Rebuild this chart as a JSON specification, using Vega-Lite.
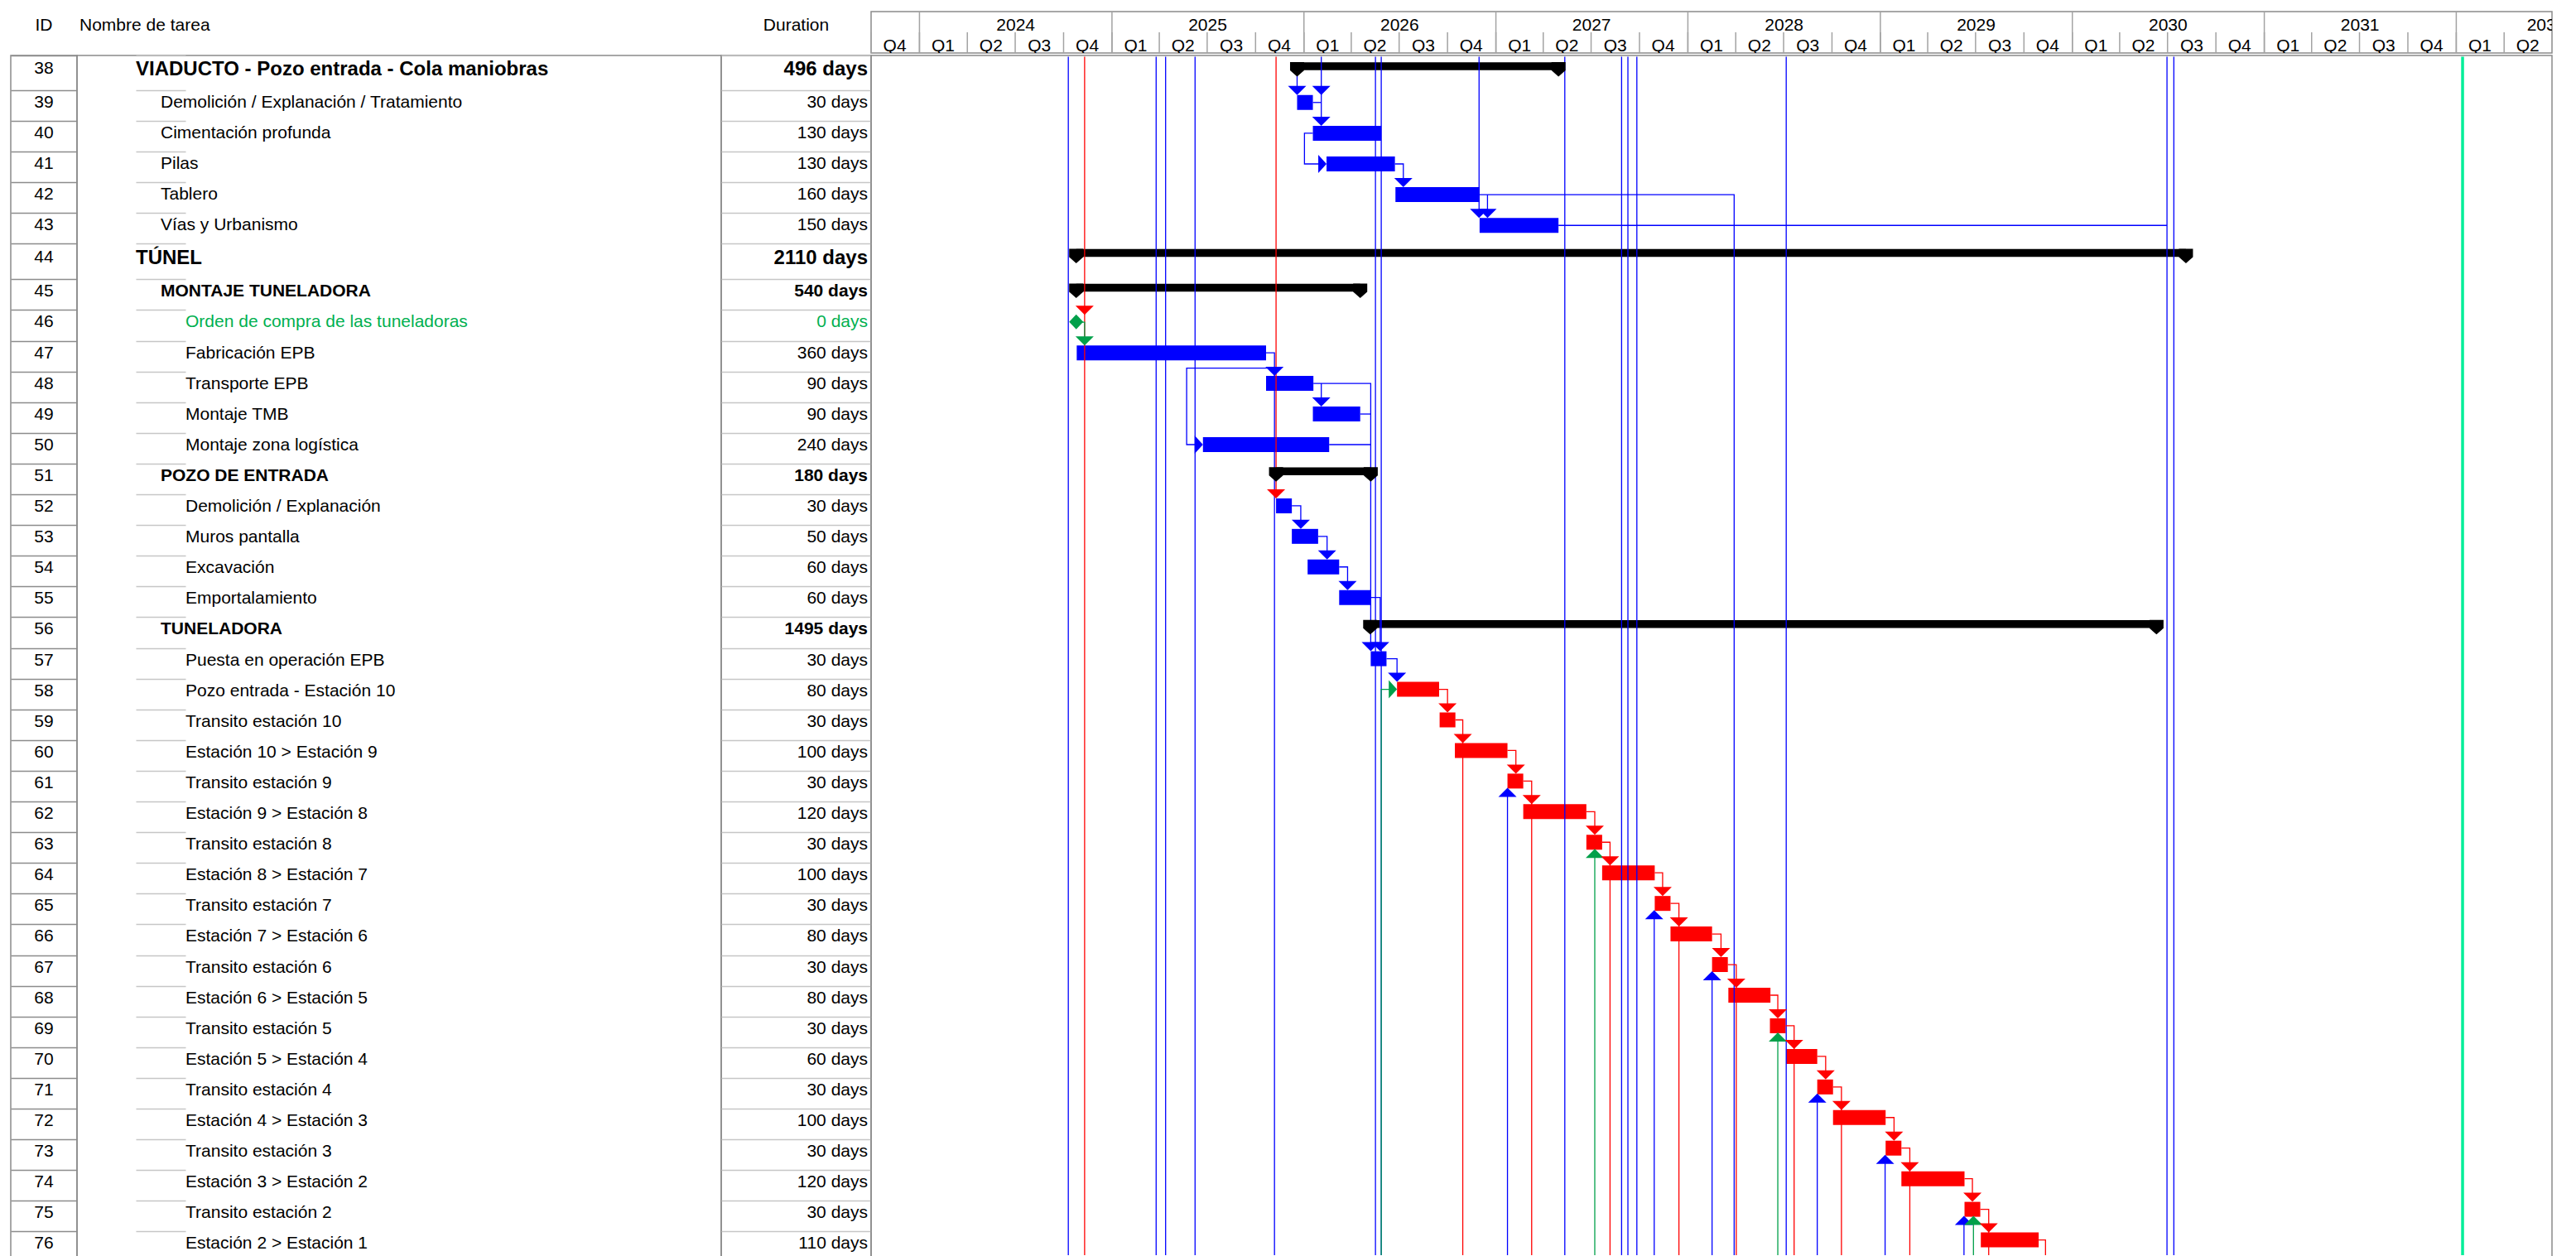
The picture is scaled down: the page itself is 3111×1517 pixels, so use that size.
{
  "$schema": "https://vega.github.io/schema/vega-lite/v6.json",
  "padding": {"left": 12, "top": 12, "right": 0, "bottom": 0},
  "background": "white",
  "spacing": 0,
  "config": {
    "font": "Liberation Sans",
    "view": {"stroke": "#8a8a8a", "strokeWidth": 1.5},
    "concat": {"spacing": 0}
  },
  "datasets": {
    "tasks": [
      {"id": 38, "name": "VIADUCTO - Pozo entrada - Cola maniobras", "dur": "496 days", "lvl": 1, "type": "sum", "c": "sum", "d": "2025-12-19", "e": "2027-04-30"},
      {"id": 39, "name": "Demolición / Explanación / Tratamiento", "dur": "30 days", "lvl": 2, "type": "task", "c": "b", "d": "2025-12-19", "e": "2026-01-18"},
      {"id": 40, "name": "Cimentación profunda", "dur": "130 days", "lvl": 2, "type": "task", "c": "b", "d": "2026-01-18", "e": "2026-05-28"},
      {"id": 41, "name": "Pilas", "dur": "130 days", "lvl": 2, "type": "task", "c": "b", "d": "2026-02-13", "e": "2026-06-23"},
      {"id": 42, "name": "Tablero", "dur": "160 days", "lvl": 2, "type": "task", "c": "b", "d": "2026-06-24", "e": "2026-12-01"},
      {"id": 43, "name": "Vías y Urbanismo", "dur": "150 days", "lvl": 2, "type": "task", "c": "b", "d": "2026-12-01", "e": "2027-04-30"},
      {"id": 44, "name": "TÚNEL", "dur": "2110 days", "lvl": 1, "type": "sum", "c": "sum", "d": "2024-10-25", "e": "2030-08-05"},
      {"id": 45, "name": "MONTAJE TUNELADORA", "dur": "540 days", "lvl": 2, "type": "sum", "c": "sum", "d": "2024-10-25", "e": "2026-04-18"},
      {"id": 46, "name": "Orden de compra de las tuneladoras", "dur": "0 days", "lvl": 3, "type": "ms", "c": "g", "d": "2024-10-25", "e": "2024-10-25"},
      {"id": 47, "name": "Fabricación EPB", "dur": "360 days", "lvl": 3, "type": "task", "c": "b", "d": "2024-10-26", "e": "2025-10-21"},
      {"id": 48, "name": "Transporte EPB", "dur": "90 days", "lvl": 3, "type": "task", "c": "b", "d": "2025-10-21", "e": "2026-01-19"},
      {"id": 49, "name": "Montaje TMB", "dur": "90 days", "lvl": 3, "type": "task", "c": "b", "d": "2026-01-18", "e": "2026-04-18"},
      {"id": 50, "name": "Montaje zona logística", "dur": "240 days", "lvl": 3, "type": "task", "c": "b", "d": "2025-06-23", "e": "2026-02-18"},
      {"id": 51, "name": "POZO DE ENTRADA", "dur": "180 days", "lvl": 2, "type": "sum", "c": "sum", "d": "2025-11-09", "e": "2026-05-08"},
      {"id": 52, "name": "Demolición / Explanación", "dur": "30 days", "lvl": 3, "type": "task", "c": "b", "d": "2025-11-09", "e": "2025-12-09"},
      {"id": 53, "name": "Muros pantalla", "dur": "50 days", "lvl": 3, "type": "task", "c": "b", "d": "2025-12-09", "e": "2026-01-28"},
      {"id": 54, "name": "Excavación", "dur": "60 days", "lvl": 3, "type": "task", "c": "b", "d": "2026-01-08", "e": "2026-03-09"},
      {"id": 55, "name": "Emportalamiento", "dur": "60 days", "lvl": 3, "type": "task", "c": "b", "d": "2026-03-09", "e": "2026-05-08"},
      {"id": 56, "name": "TUNELADORA", "dur": "1495 days", "lvl": 2, "type": "sum", "c": "sum", "d": "2026-05-07", "e": "2030-06-10"},
      {"id": 57, "name": "Puesta en operación EPB", "dur": "30 days", "lvl": 3, "type": "task", "c": "b", "d": "2026-05-08", "e": "2026-06-07"},
      {"id": 58, "name": "Pozo entrada - Estación 10", "dur": "80 days", "lvl": 3, "type": "task", "c": "r", "d": "2026-06-27", "e": "2026-09-15"},
      {"id": 59, "name": "Transito estación 10", "dur": "30 days", "lvl": 3, "type": "task", "c": "r", "d": "2026-09-16", "e": "2026-10-16"},
      {"id": 60, "name": "Estación 10 > Estación 9", "dur": "100 days", "lvl": 3, "type": "task", "c": "r", "d": "2026-10-15", "e": "2027-01-23"},
      {"id": 61, "name": "Transito estación 9", "dur": "30 days", "lvl": 3, "type": "task", "c": "r", "d": "2027-01-23", "e": "2027-02-22"},
      {"id": 62, "name": "Estación 9 > Estación 8", "dur": "120 days", "lvl": 3, "type": "task", "c": "r", "d": "2027-02-22", "e": "2027-06-22"},
      {"id": 63, "name": "Transito estación 8", "dur": "30 days", "lvl": 3, "type": "task", "c": "r", "d": "2027-06-22", "e": "2027-07-22"},
      {"id": 64, "name": "Estación 8 > Estación 7", "dur": "100 days", "lvl": 3, "type": "task", "c": "r", "d": "2027-07-22", "e": "2027-10-30"},
      {"id": 65, "name": "Transito estación 7", "dur": "30 days", "lvl": 3, "type": "task", "c": "r", "d": "2027-10-30", "e": "2027-11-29"},
      {"id": 66, "name": "Estación 7 > Estación 6", "dur": "80 days", "lvl": 3, "type": "task", "c": "r", "d": "2027-11-29", "e": "2028-02-16"},
      {"id": 67, "name": "Transito estación 6", "dur": "30 days", "lvl": 3, "type": "task", "c": "r", "d": "2028-02-16", "e": "2028-03-17"},
      {"id": 68, "name": "Estación 6 > Estación 5", "dur": "80 days", "lvl": 3, "type": "task", "c": "r", "d": "2028-03-18", "e": "2028-06-06"},
      {"id": 69, "name": "Transito estación 5", "dur": "30 days", "lvl": 3, "type": "task", "c": "r", "d": "2028-06-05", "e": "2028-07-05"},
      {"id": 70, "name": "Estación 5 > Estación 4", "dur": "60 days", "lvl": 3, "type": "task", "c": "r", "d": "2028-07-06", "e": "2028-09-03"},
      {"id": 71, "name": "Transito estación 4", "dur": "30 days", "lvl": 3, "type": "task", "c": "r", "d": "2028-09-03", "e": "2028-10-03"},
      {"id": 72, "name": "Estación 4 > Estación 3", "dur": "100 days", "lvl": 3, "type": "task", "c": "r", "d": "2028-10-03", "e": "2029-01-11"},
      {"id": 73, "name": "Transito estación 3", "dur": "30 days", "lvl": 3, "type": "task", "c": "r", "d": "2029-01-11", "e": "2029-02-10"},
      {"id": 74, "name": "Estación 3 > Estación 2", "dur": "120 days", "lvl": 3, "type": "task", "c": "r", "d": "2029-02-10", "e": "2029-06-10"},
      {"id": 75, "name": "Transito estación 2", "dur": "30 days", "lvl": 3, "type": "task", "c": "r", "d": "2029-06-10", "e": "2029-07-10"},
      {"id": 76, "name": "Estación 2 > Estación 1", "dur": "110 days", "lvl": 3, "type": "task", "c": "r", "d": "2029-07-11", "e": "2029-10-29"}
    ],
    "pts": [
      {"id": 39, "d": "2025-12-19", "k": "d", "c": "b"},
      {"id": 39, "d": "2026-02-03", "k": "d", "c": "b"},
      {"id": 40, "d": "2026-02-03", "k": "d", "c": "b"},
      {"id": 41, "d": "2026-02-13", "k": "r", "c": "b"},
      {"id": 42, "d": "2026-07-09", "k": "d", "c": "b"},
      {"id": 43, "d": "2026-11-30", "k": "d", "c": "b"},
      {"id": 43, "d": "2026-12-16", "k": "d", "c": "b"},
      {"id": 46, "d": "2024-11-10", "k": "d", "c": "r"},
      {"id": 46, "d": "2024-10-25", "k": "ms", "c": "g"},
      {"id": 47, "d": "2024-11-10", "k": "d", "c": "g"},
      {"id": 48, "d": "2025-11-06", "k": "d", "c": "b"},
      {"id": 49, "d": "2026-02-03", "k": "d", "c": "b"},
      {"id": 50, "d": "2025-06-23", "k": "r", "c": "b"},
      {"id": 52, "d": "2025-11-09", "k": "d", "c": "r"},
      {"id": 53, "d": "2025-12-26", "k": "d", "c": "b"},
      {"id": 54, "d": "2026-02-14", "k": "d", "c": "b"},
      {"id": 55, "d": "2026-03-25", "k": "d", "c": "b"},
      {"id": 57, "d": "2026-05-08", "k": "d", "c": "b"},
      {"id": 57, "d": "2026-05-26", "k": "d", "c": "b"},
      {"id": 58, "d": "2026-06-27", "k": "d", "c": "b"},
      {"id": 58, "d": "2026-06-27", "k": "r", "c": "g"},
      {"id": 59, "d": "2026-10-01", "k": "d", "c": "r"},
      {"id": 60, "d": "2026-10-30", "k": "d", "c": "r"},
      {"id": 61, "d": "2027-02-08", "k": "d", "c": "r"},
      {"id": 61, "d": "2027-01-23", "k": "u", "c": "b"},
      {"id": 62, "d": "2027-03-10", "k": "d", "c": "r"},
      {"id": 63, "d": "2027-07-08", "k": "d", "c": "r"},
      {"id": 63, "d": "2027-07-08", "k": "u", "c": "g"},
      {"id": 64, "d": "2027-08-06", "k": "d", "c": "r"},
      {"id": 65, "d": "2027-11-14", "k": "d", "c": "r"},
      {"id": 65, "d": "2027-10-29", "k": "u", "c": "b"},
      {"id": 66, "d": "2027-12-15", "k": "d", "c": "r"},
      {"id": 67, "d": "2028-03-04", "k": "d", "c": "r"},
      {"id": 67, "d": "2028-02-16", "k": "u", "c": "b"},
      {"id": 68, "d": "2028-04-02", "k": "d", "c": "r"},
      {"id": 69, "d": "2028-06-20", "k": "d", "c": "r"},
      {"id": 69, "d": "2028-06-20", "k": "u", "c": "g"},
      {"id": 70, "d": "2028-07-21", "k": "d", "c": "r"},
      {"id": 71, "d": "2028-09-19", "k": "d", "c": "r"},
      {"id": 71, "d": "2028-09-03", "k": "u", "c": "b"},
      {"id": 72, "d": "2028-10-19", "k": "d", "c": "r"},
      {"id": 73, "d": "2029-01-27", "k": "d", "c": "r"},
      {"id": 73, "d": "2029-01-10", "k": "u", "c": "b"},
      {"id": 74, "d": "2029-02-26", "k": "d", "c": "r"},
      {"id": 75, "d": "2029-06-25", "k": "d", "c": "r"},
      {"id": 75, "d": "2029-06-09", "k": "u", "c": "b"},
      {"id": 75, "d": "2029-06-27", "k": "u", "c": "g"},
      {"id": 76, "d": "2029-07-26", "k": "d", "c": "r"}
    ],
    "links": [
      {"k": "F1", "o": 1, "d": "2024-10-10", "id": 37.5, "c": "b"}, {"k": "F1", "o": 2, "d": "2024-10-10", "id": 76.5, "c": "b"},
      {"k": "F2", "o": 1, "d": "2024-11-10", "id": 37.5, "c": "r"}, {"k": "F2", "o": 2, "d": "2024-11-10", "id": 76.5, "c": "r"},
      {"k": "F3", "o": 1, "d": "2025-03-26", "id": 37.5, "c": "b"}, {"k": "F3", "o": 2, "d": "2025-03-26", "id": 76.5, "c": "b"},
      {"k": "F4", "o": 1, "d": "2025-04-13", "id": 37.5, "c": "b"}, {"k": "F4", "o": 2, "d": "2025-04-13", "id": 76.5, "c": "b"},
      {"k": "F5", "o": 1, "d": "2025-06-08", "id": 37.5, "c": "b"}, {"k": "F5", "o": 2, "d": "2025-06-08", "id": 76.5, "c": "b"},
      {"k": "F6", "o": 1, "d": "2025-11-09", "id": 37.5, "c": "r"}, {"k": "F6", "o": 2, "d": "2025-11-09", "id": 51.5, "c": "r"},
      {"k": "F7", "o": 1, "d": "2026-05-17", "id": 37.5, "c": "b"}, {"k": "F7", "o": 2, "d": "2026-05-17", "id": 76.5, "c": "b"},
      {"k": "F8", "o": 1, "d": "2026-05-28", "id": 37.5, "c": "b"}, {"k": "F8", "o": 2, "d": "2026-05-28", "id": 76.5, "c": "b"},
      {"k": "F9", "o": 1, "d": "2027-05-12", "id": 37.5, "c": "b"}, {"k": "F9", "o": 2, "d": "2027-05-12", "id": 76.5, "c": "b"},
      {"k": "F10", "o": 1, "d": "2027-08-28", "id": 37.5, "c": "b"}, {"k": "F10", "o": 2, "d": "2027-08-28", "id": 76.5, "c": "b"},
      {"k": "F11", "o": 1, "d": "2027-09-09", "id": 37.5, "c": "b"}, {"k": "F11", "o": 2, "d": "2027-09-09", "id": 76.5, "c": "b"},
      {"k": "F12", "o": 1, "d": "2027-09-26", "id": 37.5, "c": "b"}, {"k": "F12", "o": 2, "d": "2027-09-26", "id": 76.5, "c": "b"},
      {"k": "F13", "o": 1, "d": "2028-07-06", "id": 37.5, "c": "b"}, {"k": "F13", "o": 2, "d": "2028-07-06", "id": 76.5, "c": "b"},
      {"k": "F14", "o": 1, "d": "2030-06-30", "id": 37.5, "c": "b"}, {"k": "F14", "o": 2, "d": "2030-06-30", "id": 76.5, "c": "b"},
      {"k": "F15", "o": 1, "d": "2030-07-13", "id": 37.5, "c": "b"}, {"k": "F15", "o": 2, "d": "2030-07-13", "id": 76.5, "c": "b"},
      {"k": "F16", "o": 1, "d": "2032-01-13", "id": 37.5, "c": "sg"}, {"k": "F16", "o": 2, "d": "2032-01-13", "id": 76.5, "c": "sg"},
      {"k": "P1", "o": 1, "d": "2025-12-19", "id": 38, "c": "b"}, {"k": "P1", "o": 2, "d": "2025-12-19", "id": 38.5, "c": "b"},
      {"k": "P2", "o": 1, "d": "2026-02-03", "id": 37.5, "c": "b"}, {"k": "P2", "o": 2, "d": "2026-02-03", "id": 39.5, "c": "b"},
      {"k": "P3", "o": 1, "d": "2026-01-18", "id": 39, "c": "b"}, {"k": "P3", "o": 2, "d": "2026-02-03", "id": 39, "c": "b"},
      {"k": "P4", "o": 1, "d": "2026-01-18", "id": 40, "c": "b"}, {"k": "P4", "o": 2, "d": "2026-01-02", "id": 40, "c": "b"}, {"k": "P4", "o": 3, "d": "2026-01-02", "id": 41, "c": "b"}, {"k": "P4", "o": 4, "d": "2026-02-07", "id": 41, "c": "b"},
      {"k": "P5", "o": 1, "d": "2026-06-23", "id": 41, "c": "b"}, {"k": "P5", "o": 2, "d": "2026-07-09", "id": 41, "c": "b"}, {"k": "P5", "o": 3, "d": "2026-07-09", "id": 41.5, "c": "b"},
      {"k": "P6", "o": 1, "d": "2026-11-30", "id": 37.5, "c": "b"}, {"k": "P6", "o": 2, "d": "2026-11-30", "id": 42.5, "c": "b"},
      {"k": "P7", "o": 1, "d": "2026-12-01", "id": 42, "c": "b"}, {"k": "P7", "o": 2, "d": "2028-03-29", "id": 42, "c": "b"}, {"k": "P7", "o": 3, "d": "2028-03-29", "id": 76.5, "c": "b"},
      {"k": "P8", "o": 1, "d": "2026-12-16", "id": 42, "c": "b"}, {"k": "P8", "o": 2, "d": "2026-12-16", "id": 42.5, "c": "b"},
      {"k": "P9", "o": 1, "d": "2027-04-30", "id": 43, "c": "b"}, {"k": "P9", "o": 2, "d": "2030-06-30", "id": 43, "c": "b"},
      {"k": "P10", "o": 1, "d": "2024-10-25", "id": 46, "c": "g"}, {"k": "P10", "o": 2, "d": "2024-11-10", "id": 46, "c": "g"}, {"k": "P10", "o": 3, "d": "2024-11-10", "id": 46.5, "c": "g"},
      {"k": "P11", "o": 1, "d": "2025-10-21", "id": 47, "c": "b"}, {"k": "P11", "o": 2, "d": "2025-11-06", "id": 47, "c": "b"}, {"k": "P11", "o": 3, "d": "2025-11-06", "id": 76.5, "c": "b"},
      {"k": "P12", "o": 1, "d": "2025-11-06", "id": 47.5, "c": "b"}, {"k": "P12", "o": 2, "d": "2025-05-23", "id": 47.5, "c": "b"}, {"k": "P12", "o": 3, "d": "2025-05-23", "id": 50, "c": "b"}, {"k": "P12", "o": 4, "d": "2025-06-16", "id": 50, "c": "b"},
      {"k": "P13", "o": 1, "d": "2026-01-19", "id": 48, "c": "b"}, {"k": "P13", "o": 2, "d": "2026-05-08", "id": 48, "c": "b"}, {"k": "P13", "o": 3, "d": "2026-05-08", "id": 56.5, "c": "b"},
      {"k": "P14", "o": 1, "d": "2026-02-03", "id": 48, "c": "b"}, {"k": "P14", "o": 2, "d": "2026-02-03", "id": 48.5, "c": "b"},
      {"k": "P15", "o": 1, "d": "2026-04-18", "id": 49, "c": "b"}, {"k": "P15", "o": 2, "d": "2026-05-08", "id": 49, "c": "b"},
      {"k": "P16", "o": 1, "d": "2026-02-18", "id": 50, "c": "b"}, {"k": "P16", "o": 2, "d": "2026-05-08", "id": 50, "c": "b"},
      {"k": "P17", "o": 1, "d": "2025-12-09", "id": 52, "c": "b"}, {"k": "P17", "o": 2, "d": "2025-12-26", "id": 52, "c": "b"}, {"k": "P17", "o": 3, "d": "2025-12-26", "id": 52.5, "c": "b"},
      {"k": "P18", "o": 1, "d": "2026-01-28", "id": 53, "c": "b"}, {"k": "P18", "o": 2, "d": "2026-02-14", "id": 53, "c": "b"}, {"k": "P18", "o": 3, "d": "2026-02-14", "id": 53.5, "c": "b"},
      {"k": "P19", "o": 1, "d": "2026-03-09", "id": 54, "c": "b"}, {"k": "P19", "o": 2, "d": "2026-03-25", "id": 54, "c": "b"}, {"k": "P19", "o": 3, "d": "2026-03-25", "id": 54.5, "c": "b"},
      {"k": "P20", "o": 1, "d": "2026-05-08", "id": 55, "c": "b"}, {"k": "P20", "o": 2, "d": "2026-05-26", "id": 55, "c": "b"}, {"k": "P20", "o": 3, "d": "2026-05-26", "id": 56.5, "c": "b"},
      {"k": "P21", "o": 1, "d": "2026-06-07", "id": 57, "c": "b"}, {"k": "P21", "o": 2, "d": "2026-06-27", "id": 57, "c": "b"}, {"k": "P21", "o": 3, "d": "2026-06-27", "id": 57.5, "c": "b"},
      {"k": "P22", "o": 1, "d": "2026-06-20", "id": 58, "c": "g"}, {"k": "P22", "o": 2, "d": "2026-05-28", "id": 58, "c": "g"}, {"k": "P22", "o": 3, "d": "2026-05-28", "id": 76.5, "c": "g"},
      {"k": "P23", "o": 1, "d": "2026-09-15", "id": 58, "c": "r"}, {"k": "P23", "o": 2, "d": "2026-10-01", "id": 58, "c": "r"}, {"k": "P23", "o": 3, "d": "2026-10-01", "id": 58.5, "c": "r"},
      {"k": "P24", "o": 1, "d": "2026-10-16", "id": 59, "c": "r"}, {"k": "P24", "o": 2, "d": "2026-10-30", "id": 59, "c": "r"}, {"k": "P24", "o": 3, "d": "2026-10-30", "id": 76.5, "c": "r"},
      {"k": "P25", "o": 1, "d": "2027-01-23", "id": 60, "c": "r"}, {"k": "P25", "o": 2, "d": "2027-02-08", "id": 60, "c": "r"}, {"k": "P25", "o": 3, "d": "2027-02-08", "id": 60.5, "c": "r"},
      {"k": "P26", "o": 1, "d": "2027-01-23", "id": 76.5, "c": "b"}, {"k": "P26", "o": 2, "d": "2027-01-23", "id": 61.5, "c": "b"},
      {"k": "P27", "o": 1, "d": "2027-02-22", "id": 61, "c": "r"}, {"k": "P27", "o": 2, "d": "2027-03-10", "id": 61, "c": "r"}, {"k": "P27", "o": 3, "d": "2027-03-10", "id": 76.5, "c": "r"},
      {"k": "P28", "o": 1, "d": "2027-06-22", "id": 62, "c": "r"}, {"k": "P28", "o": 2, "d": "2027-07-08", "id": 62, "c": "r"}, {"k": "P28", "o": 3, "d": "2027-07-08", "id": 62.5, "c": "r"},
      {"k": "P29", "o": 1, "d": "2027-07-08", "id": 76.5, "c": "g"}, {"k": "P29", "o": 2, "d": "2027-07-08", "id": 63.5, "c": "g"},
      {"k": "P30", "o": 1, "d": "2027-07-22", "id": 63, "c": "r"}, {"k": "P30", "o": 2, "d": "2027-08-06", "id": 63, "c": "r"}, {"k": "P30", "o": 3, "d": "2027-08-06", "id": 76.5, "c": "r"},
      {"k": "P31", "o": 1, "d": "2027-10-30", "id": 64, "c": "r"}, {"k": "P31", "o": 2, "d": "2027-11-14", "id": 64, "c": "r"}, {"k": "P31", "o": 3, "d": "2027-11-14", "id": 64.5, "c": "r"},
      {"k": "P32", "o": 1, "d": "2027-10-29", "id": 76.5, "c": "b"}, {"k": "P32", "o": 2, "d": "2027-10-29", "id": 65.5, "c": "b"},
      {"k": "P33", "o": 1, "d": "2027-11-29", "id": 65, "c": "r"}, {"k": "P33", "o": 2, "d": "2027-12-15", "id": 65, "c": "r"}, {"k": "P33", "o": 3, "d": "2027-12-15", "id": 76.5, "c": "r"},
      {"k": "P34", "o": 1, "d": "2028-02-16", "id": 66, "c": "r"}, {"k": "P34", "o": 2, "d": "2028-03-04", "id": 66, "c": "r"}, {"k": "P34", "o": 3, "d": "2028-03-04", "id": 66.5, "c": "r"},
      {"k": "P35", "o": 1, "d": "2028-02-16", "id": 76.5, "c": "b"}, {"k": "P35", "o": 2, "d": "2028-02-16", "id": 67.5, "c": "b"},
      {"k": "P36", "o": 1, "d": "2028-03-17", "id": 67, "c": "r"}, {"k": "P36", "o": 2, "d": "2028-04-02", "id": 67, "c": "r"}, {"k": "P36", "o": 3, "d": "2028-04-02", "id": 76.5, "c": "r"},
      {"k": "P37", "o": 1, "d": "2028-06-06", "id": 68, "c": "r"}, {"k": "P37", "o": 2, "d": "2028-06-20", "id": 68, "c": "r"}, {"k": "P37", "o": 3, "d": "2028-06-20", "id": 68.5, "c": "r"},
      {"k": "P38", "o": 1, "d": "2028-06-20", "id": 76.5, "c": "g"}, {"k": "P38", "o": 2, "d": "2028-06-20", "id": 69.5, "c": "g"},
      {"k": "P39", "o": 1, "d": "2028-07-05", "id": 69, "c": "r"}, {"k": "P39", "o": 2, "d": "2028-07-21", "id": 69, "c": "r"}, {"k": "P39", "o": 3, "d": "2028-07-21", "id": 76.5, "c": "r"},
      {"k": "P40", "o": 1, "d": "2028-09-03", "id": 70, "c": "r"}, {"k": "P40", "o": 2, "d": "2028-09-19", "id": 70, "c": "r"}, {"k": "P40", "o": 3, "d": "2028-09-19", "id": 70.5, "c": "r"},
      {"k": "P41", "o": 1, "d": "2028-09-03", "id": 76.5, "c": "b"}, {"k": "P41", "o": 2, "d": "2028-09-03", "id": 71.5, "c": "b"},
      {"k": "P42", "o": 1, "d": "2028-10-03", "id": 71, "c": "r"}, {"k": "P42", "o": 2, "d": "2028-10-19", "id": 71, "c": "r"}, {"k": "P42", "o": 3, "d": "2028-10-19", "id": 76.5, "c": "r"},
      {"k": "P43", "o": 1, "d": "2029-01-11", "id": 72, "c": "r"}, {"k": "P43", "o": 2, "d": "2029-01-27", "id": 72, "c": "r"}, {"k": "P43", "o": 3, "d": "2029-01-27", "id": 72.5, "c": "r"},
      {"k": "P44", "o": 1, "d": "2029-01-10", "id": 76.5, "c": "b"}, {"k": "P44", "o": 2, "d": "2029-01-10", "id": 73.5, "c": "b"},
      {"k": "P45", "o": 1, "d": "2029-02-10", "id": 73, "c": "r"}, {"k": "P45", "o": 2, "d": "2029-02-26", "id": 73, "c": "r"}, {"k": "P45", "o": 3, "d": "2029-02-26", "id": 76.5, "c": "r"},
      {"k": "P46", "o": 1, "d": "2029-06-10", "id": 74, "c": "r"}, {"k": "P46", "o": 2, "d": "2029-06-25", "id": 74, "c": "r"}, {"k": "P46", "o": 3, "d": "2029-06-25", "id": 74.5, "c": "r"},
      {"k": "P47", "o": 1, "d": "2029-06-09", "id": 76.5, "c": "b"}, {"k": "P47", "o": 2, "d": "2029-06-09", "id": 75.5, "c": "b"},
      {"k": "P48", "o": 1, "d": "2029-06-27", "id": 76.5, "c": "g"}, {"k": "P48", "o": 2, "d": "2029-06-27", "id": 75.5, "c": "g"},
      {"k": "P49", "o": 1, "d": "2029-07-10", "id": 75, "c": "r"}, {"k": "P49", "o": 2, "d": "2029-07-26", "id": 75, "c": "r"}, {"k": "P49", "o": 3, "d": "2029-07-26", "id": 76.5, "c": "r"},
      {"k": "P50", "o": 1, "d": "2029-10-29", "id": 76, "c": "r"}, {"k": "P50", "o": 2, "d": "2029-11-11", "id": 76, "c": "r"}, {"k": "P50", "o": 3, "d": "2029-11-11", "id": 76.5, "c": "r"}
    ],
    "quarters": [
      {"q": "Q4", "s": "2023-10-01", "m": "2023-11-15"},
      {"q": "Q1", "s": "2024-01-01", "m": "2024-02-15"}, {"q": "Q2", "s": "2024-04-01", "m": "2024-05-16"}, {"q": "Q3", "s": "2024-07-01", "m": "2024-08-16"}, {"q": "Q4", "s": "2024-10-01", "m": "2024-11-15"},
      {"q": "Q1", "s": "2025-01-01", "m": "2025-02-15"}, {"q": "Q2", "s": "2025-04-01", "m": "2025-05-16"}, {"q": "Q3", "s": "2025-07-01", "m": "2025-08-16"}, {"q": "Q4", "s": "2025-10-01", "m": "2025-11-15"},
      {"q": "Q1", "s": "2026-01-01", "m": "2026-02-15"}, {"q": "Q2", "s": "2026-04-01", "m": "2026-05-16"}, {"q": "Q3", "s": "2026-07-01", "m": "2026-08-16"}, {"q": "Q4", "s": "2026-10-01", "m": "2026-11-15"},
      {"q": "Q1", "s": "2027-01-01", "m": "2027-02-15"}, {"q": "Q2", "s": "2027-04-01", "m": "2027-05-16"}, {"q": "Q3", "s": "2027-07-01", "m": "2027-08-16"}, {"q": "Q4", "s": "2027-10-01", "m": "2027-11-15"},
      {"q": "Q1", "s": "2028-01-01", "m": "2028-02-15"}, {"q": "Q2", "s": "2028-04-01", "m": "2028-05-16"}, {"q": "Q3", "s": "2028-07-01", "m": "2028-08-16"}, {"q": "Q4", "s": "2028-10-01", "m": "2028-11-15"},
      {"q": "Q1", "s": "2029-01-01", "m": "2029-02-15"}, {"q": "Q2", "s": "2029-04-01", "m": "2029-05-16"}, {"q": "Q3", "s": "2029-07-01", "m": "2029-08-16"}, {"q": "Q4", "s": "2029-10-01", "m": "2029-11-15"},
      {"q": "Q1", "s": "2030-01-01", "m": "2030-02-15"}, {"q": "Q2", "s": "2030-04-01", "m": "2030-05-16"}, {"q": "Q3", "s": "2030-07-01", "m": "2030-08-16"}, {"q": "Q4", "s": "2030-10-01", "m": "2030-11-15"},
      {"q": "Q1", "s": "2031-01-01", "m": "2031-02-15"}, {"q": "Q2", "s": "2031-04-01", "m": "2031-05-16"}, {"q": "Q3", "s": "2031-07-01", "m": "2031-08-16"}, {"q": "Q4", "s": "2031-10-01", "m": "2031-11-15"},
      {"q": "Q1", "s": "2032-01-01", "m": "2032-02-15"}, {"q": "Q2", "s": "2032-04-01", "m": "2032-05-16"}
    ],
    "years": [
      {"y": "2024", "s": "2024-01-01", "m": "2024-07-02"},
      {"y": "2025", "s": "2025-01-01", "m": "2025-07-02"},
      {"y": "2026", "s": "2026-01-01", "m": "2026-07-02"},
      {"y": "2027", "s": "2027-01-01", "m": "2027-07-02"},
      {"y": "2028", "s": "2028-01-01", "m": "2028-07-02"},
      {"y": "2029", "s": "2029-01-01", "m": "2029-07-02"},
      {"y": "2030", "s": "2030-01-01", "m": "2030-07-02"},
      {"y": "2031", "s": "2031-01-01", "m": "2031-07-02"},
      {"y": "2032", "s": "2032-01-01", "m": "2032-06-20"}
    ]
  },
  "vconcat": [
    {
      "spacing": 0,
      "bounds": "flush",
      "hconcat": [
        {
          "width": 80, "height": 50,
          "data": {"values": [{"h": "ID"}]},
          "mark": {"type": "text", "fontSize": 21, "baseline": "alphabetic", "dy": -2, "color": "black"},
          "encoding": {"text": {"field": "h", "type": "nominal"}}
        },
        {
          "width": 778, "height": 50,
          "data": {"values": [{"h": "Nombre de tarea"}]},
          "mark": {"type": "text", "fontSize": 21, "baseline": "alphabetic", "dy": -2, "align": "left", "x": 3, "color": "black"},
          "encoding": {"text": {"field": "h", "type": "nominal"}}
        },
        {
          "width": 181, "height": 50,
          "data": {"values": [{"h": "Duration"}]},
          "mark": {"type": "text", "fontSize": 21, "baseline": "alphabetic", "dy": -2, "color": "black"},
          "encoding": {"text": {"field": "h", "type": "nominal"}}
        },
        {
          "width": 2030, "height": 50,
          "layer": [
            {
              "data": {"name": "quarters"},
              "mark": {"type": "rule", "color": "#a3a3a3", "strokeWidth": 1.5},
              "encoding": {
                "x": {"field": "s", "type": "temporal", "scale": {"type": "utc", "domain": [{"year": 2023, "month": 10, "date": 1, "utc": true}, {"year": 2032, "month": 7, "date": 1, "utc": true}], "nice": false}, "axis": null},
                "y": {"datum": 1, "type": "quantitative", "scale": {"domain": [0, 2], "range": [0, 50], "nice": false, "zero": false}, "axis": null},
                "y2": {"datum": 2}
              }
            },
            {
              "data": {"name": "years"},
              "mark": {"type": "rule", "color": "#a3a3a3", "strokeWidth": 1.5},
              "encoding": {
                "x": {"field": "s", "type": "temporal", "scale": {"type": "utc", "domain": [{"year": 2023, "month": 10, "date": 1, "utc": true}, {"year": 2032, "month": 7, "date": 1, "utc": true}], "nice": false}, "axis": null},
                "y": {"datum": 0, "type": "quantitative", "scale": {"domain": [0, 2], "range": [0, 50], "nice": false, "zero": false}, "axis": null},
                "y2": {"datum": 2}
              }
            },
            {
              "data": {"name": "quarters"},
              "mark": {"type": "text", "fontSize": 21, "baseline": "alphabetic", "color": "black", "clip": true},
              "encoding": {
                "x": {"field": "m", "type": "temporal", "scale": {"type": "utc", "domain": [{"year": 2023, "month": 10, "date": 1, "utc": true}, {"year": 2032, "month": 7, "date": 1, "utc": true}], "nice": false}, "axis": null},
                "y": {"datum": 1.92, "type": "quantitative", "scale": {"domain": [0, 2], "range": [0, 50], "nice": false, "zero": false}, "axis": null},
                "text": {"field": "q", "type": "nominal"}
              }
            },
            {
              "data": {"name": "years"},
              "mark": {"type": "text", "fontSize": 21, "baseline": "alphabetic", "color": "black", "clip": true},
              "encoding": {
                "x": {"field": "m", "type": "temporal", "scale": {"type": "utc", "domain": [{"year": 2023, "month": 10, "date": 1, "utc": true}, {"year": 2032, "month": 7, "date": 1, "utc": true}], "nice": false}, "axis": null},
                "y": {"datum": 0.92, "type": "quantitative", "scale": {"domain": [0, 2], "range": [0, 50], "nice": false, "zero": false}, "axis": null},
                "text": {"field": "y", "type": "nominal"}
              }
            }
          ]
        }
      ]
    },
    {
      "spacing": 0,
      "bounds": "flush",
      "hconcat": [
        {
          "width": 80, "height": 1455,
          "data": {"name": "tasks"},
          "encoding": {
            "y": {"field": "id", "type": "quantitative", "scale": {"domain": [37.5, 38.5, 43.5, 44.5, 76.5], "range": [0, 41.7, 227.3, 270.3, 1457.5], "nice": false, "zero": false},
                  "axis": {"values": [37.5, 38.5, 39.5, 40.5, 41.5, 42.5, 43.5, 44.5, 45.5, 46.5, 47.5, 48.5, 49.5, 50.5, 51.5, 52.5, 53.5, 54.5, 55.5, 56.5, 57.5, 58.5, 59.5, 60.5, 61.5, 62.5, 63.5, 64.5, 65.5, 66.5, 67.5, 68.5, 69.5, 70.5, 71.5, 72.5, 73.5, 74.5, 75.5, 76.5], "grid": true, "gridColor": "#8c8c8c", "gridWidth": 1.5, "labels": false, "ticks": false, "domain": false, "title": null}},
            "text": {"field": "id", "type": "nominal"}
          },
          "layer": [
            {"transform": [{"filter": "datum.lvl == 1"}], "mark": {"type": "text", "fontSize": 21, "baseline": "alphabetic", "dy": 1, "color": "black"}},
            {"transform": [{"filter": "datum.lvl != 1"}], "mark": {"type": "text", "fontSize": 21, "baseline": "alphabetic", "dy": 2.5, "color": "black"}}
          ]
        },
        {
          "width": 778, "height": 1455,
          "data": {"name": "tasks"},
          "encoding": {
            "x": {"field": "lvl", "type": "quantitative", "scale": {"domain": [1, 3], "range": [71, 131], "nice": false, "zero": false}, "axis": null},
            "y": {"field": "id", "type": "quantitative", "scale": {"domain": [37.5, 38.5, 43.5, 44.5, 76.5], "range": [0, 41.7, 227.3, 270.3, 1457.5], "nice": false, "zero": false},
                  "axis": {"values": [37.5, 38.5, 39.5, 40.5, 41.5, 42.5, 43.5, 44.5, 45.5, 46.5, 47.5, 48.5, 49.5, 50.5, 51.5, 52.5, 53.5, 54.5, 55.5, 56.5, 57.5, 58.5, 59.5, 60.5, 61.5, 62.5, 63.5, 64.5, 65.5, 66.5, 67.5, 68.5, 69.5, 70.5, 71.5, 72.5, 73.5, 74.5, 75.5, 76.5], "grid": true, "gridColor": "#c6c6c6", "gridWidth": 1.5, "labels": false, "ticks": false, "domain": false, "title": null}},
            "text": {"field": "name", "type": "nominal"}
          },
          "layer": [
            {"transform": [{"filter": "datum.lvl == 1"}], "mark": {"type": "text", "align": "left", "fontSize": 24, "fontWeight": "bold", "baseline": "alphabetic", "dy": 3, "color": "black"}},
            {"transform": [{"filter": "datum.type == 'sum' && datum.lvl == 2"}], "mark": {"type": "text", "align": "left", "fontSize": 21, "fontWeight": "bold", "baseline": "alphabetic", "dy": 2.5, "color": "black"}},
            {"transform": [{"filter": "datum.type != 'sum'"}], "mark": {"type": "text", "align": "left", "fontSize": 21, "baseline": "alphabetic", "dy": 2.5},
             "encoding": {"color": {"condition": {"test": "datum.type == 'ms'", "value": "#00b050"}, "value": "#000000"}}}
          ]
        },
        {
          "width": 181, "height": 1455,
          "data": {"name": "tasks"},
          "encoding": {
            "x": {"value": "width"},
            "y": {"field": "id", "type": "quantitative", "scale": {"domain": [37.5, 38.5, 43.5, 44.5, 76.5], "range": [0, 41.7, 227.3, 270.3, 1457.5], "nice": false, "zero": false},
                  "axis": {"values": [37.5, 38.5, 39.5, 40.5, 41.5, 42.5, 43.5, 44.5, 45.5, 46.5, 47.5, 48.5, 49.5, 50.5, 51.5, 52.5, 53.5, 54.5, 55.5, 56.5, 57.5, 58.5, 59.5, 60.5, 61.5, 62.5, 63.5, 64.5, 65.5, 66.5, 67.5, 68.5, 69.5, 70.5, 71.5, 72.5, 73.5, 74.5, 75.5, 76.5], "grid": true, "gridColor": "#c6c6c6", "gridWidth": 1.5, "labels": false, "ticks": false, "domain": false, "title": null}},
            "text": {"field": "dur", "type": "nominal"}
          },
          "layer": [
            {"transform": [{"filter": "datum.lvl == 1"}], "mark": {"type": "text", "align": "right", "dx": -4, "fontSize": 24, "fontWeight": "bold", "baseline": "alphabetic", "dy": 3, "color": "black"}},
            {"transform": [{"filter": "datum.type == 'sum' && datum.lvl == 2"}], "mark": {"type": "text", "align": "right", "dx": -4, "fontSize": 21, "fontWeight": "bold", "baseline": "alphabetic", "dy": 2.5, "color": "black"}},
            {"transform": [{"filter": "datum.type != 'sum'"}], "mark": {"type": "text", "align": "right", "dx": -4, "fontSize": 21, "baseline": "alphabetic", "dy": 2.5},
             "encoding": {"color": {"condition": {"test": "datum.type == 'ms'", "value": "#00b050"}, "value": "#000000"}}}
          ]
        },
        {
          "width": 2030, "height": 1455,
          "layer": [
            {
              "data": {"name": "tasks"},
              "transform": [{"filter": "datum.type == 'task'"}],
              "mark": {"type": "bar", "orient": "horizontal", "size": 18, "yOffset": -3.5},
              "encoding": {
                "x": {"field": "d", "type": "temporal", "scale": {"type": "utc", "domain": [{"year": 2023, "month": 10, "date": 1, "utc": true}, {"year": 2032, "month": 7, "date": 1, "utc": true}], "nice": false},
                      "axis": {"orient": "bottom", "grid": true, "labels": false, "ticks": false, "domain": false, "title": null, "tickCount": {"interval": "month", "step": 3},
                               "gridColor": {"condition": {"test": "utcmonth(datum.value) == 0", "value": "#262626"}, "value": "#a6a6a6"},
                               "gridWidth": {"condition": {"test": "utcmonth(datum.value) == 0", "value": 1.6}, "value": 1.3}}},
                "x2": {"field": "e"},
                "y": {"field": "id", "type": "quantitative", "scale": {"domain": [37.5, 38.5, 43.5, 44.5, 76.5], "range": [0, 41.7, 227.3, 270.3, 1457.5], "nice": false, "zero": false}, "axis": null},
                "color": {"field": "c", "type": "nominal", "scale": {"domain": ["sum", "b", "r", "g", "sg"], "range": ["#000000", "#0000ff", "#ff0000", "#00a04a", "#00ee99"]}, "legend": null}
              }
            },
            {
              "data": {"name": "tasks"},
              "transform": [{"filter": "datum.type == 'sum' && datum.lvl == 1"}],
              "mark": {"type": "bar", "orient": "horizontal", "size": 9.5, "yOffset": -10.3, "color": "#000000"},
              "encoding": {
                "x": {"field": "d", "type": "temporal", "scale": {"type": "utc", "domain": [{"year": 2023, "month": 10, "date": 1, "utc": true}, {"year": 2032, "month": 7, "date": 1, "utc": true}], "nice": false}, "axis": null},
                "x2": {"field": "e"},
                "y": {"field": "id", "type": "quantitative", "scale": {"domain": [37.5, 38.5, 43.5, 44.5, 76.5], "range": [0, 41.7, 227.3, 270.3, 1457.5], "nice": false, "zero": false}, "axis": null}
              }
            },
            {
              "data": {"name": "tasks"},
              "transform": [{"filter": "datum.type == 'sum' && datum.lvl == 2"}],
              "mark": {"type": "bar", "orient": "horizontal", "size": 9.5, "yOffset": -8.3, "color": "#000000"},
              "encoding": {
                "x": {"field": "d", "type": "temporal", "scale": {"type": "utc", "domain": [{"year": 2023, "month": 10, "date": 1, "utc": true}, {"year": 2032, "month": 7, "date": 1, "utc": true}], "nice": false}, "axis": null},
                "x2": {"field": "e"},
                "y": {"field": "id", "type": "quantitative", "scale": {"domain": [37.5, 38.5, 43.5, 44.5, 76.5], "range": [0, 41.7, 227.3, 270.3, 1457.5], "nice": false, "zero": false}, "axis": null}
              }
            },
            {
              "data": {"name": "links"},
              "mark": {"type": "line", "clip": true, "yOffset": -3.5},
              "encoding": {
                "x": {"field": "d", "type": "temporal", "scale": {"type": "utc", "domain": [{"year": 2023, "month": 10, "date": 1, "utc": true}, {"year": 2032, "month": 7, "date": 1, "utc": true}], "nice": false}, "axis": null},
                "y": {"field": "id", "type": "quantitative", "scale": {"domain": [37.5, 38.5, 43.5, 44.5, 76.5], "range": [0, 41.7, 227.3, 270.3, 1457.5], "nice": false, "zero": false}, "axis": null},
                "detail": {"field": "k", "type": "nominal"},
                "order": {"field": "o", "type": "quantitative"},
                "color": {"field": "c", "type": "nominal", "scale": {"domain": ["sum", "b", "r", "g", "sg"], "range": ["#000000", "#0000ff", "#ff0000", "#00a04a", "#00ee99"]}, "legend": null},
                "strokeWidth": {"condition": {"test": "datum.c == 'sg'", "value": 3.5}, "value": 1.3}
              }
            },
            {
              "data": {"name": "tasks"},
              "transform": [{"filter": "datum.type == 'sum' && datum.lvl == 1"}, {"fold": ["d", "e"], "as": ["which", "cd"]}],
              "mark": {"type": "point", "shape": "M-0.773,-0.4545L0.773,-0.4545L0.773,0.4545L0,1.136L-0.773,0.4545Z", "size": 484, "filled": true, "opacity": 1, "strokeWidth": 0, "color": "#000000", "yOffset": -10.3},
              "encoding": {
                "x": {"field": "cd", "type": "temporal", "scale": {"type": "utc", "domain": [{"year": 2023, "month": 10, "date": 1, "utc": true}, {"year": 2032, "month": 7, "date": 1, "utc": true}], "nice": false}, "axis": null},
                "y": {"field": "id", "type": "quantitative", "scale": {"domain": [37.5, 38.5, 43.5, 44.5, 76.5], "range": [0, 41.7, 227.3, 270.3, 1457.5], "nice": false, "zero": false}, "axis": null}
              }
            },
            {
              "data": {"name": "tasks"},
              "transform": [{"filter": "datum.type == 'sum' && datum.lvl == 2"}, {"fold": ["d", "e"], "as": ["which", "cd"]}],
              "mark": {"type": "point", "shape": "M-0.773,-0.4545L0.773,-0.4545L0.773,0.4545L0,1.136L-0.773,0.4545Z", "size": 484, "filled": true, "opacity": 1, "strokeWidth": 0, "color": "#000000", "yOffset": -8.3},
              "encoding": {
                "x": {"field": "cd", "type": "temporal", "scale": {"type": "utc", "domain": [{"year": 2023, "month": 10, "date": 1, "utc": true}, {"year": 2032, "month": 7, "date": 1, "utc": true}], "nice": false}, "axis": null},
                "y": {"field": "id", "type": "quantitative", "scale": {"domain": [37.5, 38.5, 43.5, 44.5, 76.5], "range": [0, 41.7, 227.3, 270.3, 1457.5], "nice": false, "zero": false}, "axis": null}
              }
            },
            {
              "data": {"name": "pts"},
              "mark": {"type": "point", "size": 484, "filled": true, "opacity": 1, "strokeWidth": 0},
              "encoding": {
                "x": {"field": "d", "type": "temporal", "scale": {"type": "utc", "domain": [{"year": 2023, "month": 10, "date": 1, "utc": true}, {"year": 2032, "month": 7, "date": 1, "utc": true}], "nice": false}, "axis": null},
                "y": {"field": "id", "type": "quantitative", "scale": {"domain": [37.5, 38.5, 43.5, 44.5, 76.5], "range": [0, 41.7, 227.3, 270.3, 1457.5], "nice": false, "zero": false}, "axis": null},
                "shape": {"field": "k", "type": "nominal", "scale": {"domain": ["d", "u", "r", "ms"], "range": ["M-1,-2.136L1,-2.136L0,-1.136Z", "M-1,1.409L1,1.409L0,0.409Z", "M-0.91,-1.318L0,-0.318L-0.91,0.682Z", "M-0.773,-0.364L0,-1.182L0.773,-0.364L0,0.454Z"]}, "legend": null},
                "color": {"field": "c", "type": "nominal", "scale": {"domain": ["sum", "b", "r", "g", "sg"], "range": ["#000000", "#0000ff", "#ff0000", "#00a04a", "#00ee99"]}, "legend": null}
              }
            }
          ]
        }
      ]
    }
  ]
}
